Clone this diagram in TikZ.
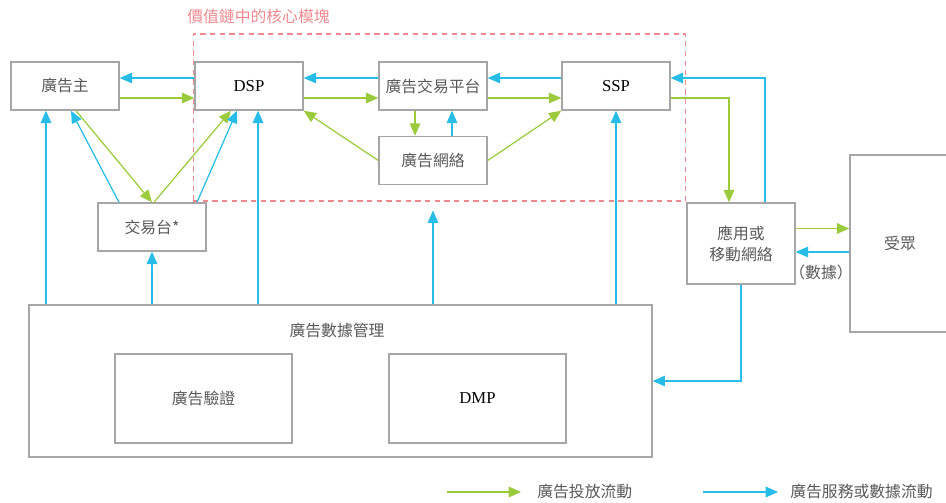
\documentclass[tikz,border=0pt]{standalone}
\usepackage{fontspec}
\setmainfont{Liberation Serif}
\newfontfamily\cjk{Noto Sans CJK TC}
\usetikzlibrary{arrows.meta}

\definecolor{flowgreen}{HTML}{9BCB3C}
\definecolor{flowblue}{HTML}{27BDE6}
\definecolor{boxgray}{HTML}{A6A6A6}
\definecolor{corered}{HTML}{EE8A8F}

\begin{document}
\begin{tikzpicture}[x=0.02cm, y=-0.02cm,
		box/.style={draw=boxgray, line width=0.85pt, minimum width=2.16cm, minimum height=0.96cm, inner sep=0pt, font=\cjk\fontsize{9}{12}\selectfont, text=black!65},
		latbox/.style={box, font=\fontsize{9.5}{12}\selectfont, text=black},
		plain/.style={inner sep=0pt, font=\cjk\fontsize{9}{12}\selectfont, text=black!65},
		gflow/.style={draw=flowgreen, line width=0.7pt, -{Triangle[length=7pt, width=6pt]}},
		bflow/.style={draw=flowblue, line width=0.7pt, -{Triangle[length=7pt, width=6pt]}}]
				\useasboundingbox (0,0) rectangle (946,503);
				
				% core modules
				\node[draw=corered, dashed, dash pattern=on 3pt off 2.5pt, line width=0.6pt, minimum width=9.86cm, minimum height=3.34cm] (core) at (439.5,117.5) {};
				\node[plain, anchor=west, text=corered] (coretitle) at (187,16) {價值鏈中的核心模塊};
				
				\node[box] (adv) at (65,86) {廣告主};
				\node[latbox] (dsp) at (249,86) {DSP};
				\node[box] (ex) at (433,86) {廣告交易平台};
				\node[latbox] (ssp) at (616,86) {SSP};
				\node[box] (net) at (433,160.5) {廣告網絡};
				\node[box] (desk) at (152,227) {交易台*};
				\node[box, minimum height=1.62cm, align=center] (app) at (741,243.5) {應用或\\移動網絡};
				\node[box, minimum width=2cm, minimum height=3.54cm] (aud) at (900,243.5) {受眾};
				\node[plain] (datalbl) at (821,272) {（數據）};
				
				% data management
				\node[box, minimum width=12.46cm, minimum height=3.04cm] (mgmt) at (340.5,381) {};
				\node[plain] (mgmtlbl) at (337,330) {廣告數據管理};
				\node[box, minimum width=3.54cm, minimum height=1.78cm] (verif) at (203.5,398.5) {廣告驗證};
				\node[latbox, minimum width=3.54cm, minimum height=1.78cm] (dmp) at (477.5,398.5) {DMP};
				
				% top row
				\draw[bflow] ([yshift=0.16cm]dsp.west) -- ([yshift=0.16cm]adv.east);
				\draw[gflow] ([yshift=-0.24cm]adv.east) -- ([yshift=-0.24cm]dsp.west);
				\draw[bflow] ([yshift=0.16cm]ex.west) -- ([yshift=0.16cm]dsp.east);
				\draw[gflow] ([yshift=-0.24cm]dsp.east) -- ([yshift=-0.24cm]ex.west);
				\draw[bflow] ([yshift=0.16cm]ssp.west) -- ([yshift=0.16cm]ex.east);
				\draw[gflow] ([yshift=-0.24cm]ex.east) -- ([yshift=-0.24cm]ssp.west);
				\draw[gflow] ([xshift=-0.36cm]ex.south) -- ([xshift=-0.36cm]net.north);
				\draw[bflow] ([xshift=0.38cm]net.north) -- ([xshift=0.38cm]ex.south);
				\draw[gflow] (net.west) -- (dsp.south east);
				\draw[gflow] (net.east) -- (ssp.south west);
				
				% trading desk
				\draw[gflow] ([xshift=0.22cm]adv.south) -- (desk.north);
				\draw[bflow] ([xshift=-0.66cm]desk.north) -- ([xshift=0.12cm]adv.south);
				\draw[gflow] ([xshift=0.04cm]desk.north) -- ([xshift=-0.36cm]dsp.south);
				\draw[bflow] ([xshift=0.9cm]desk.north) -- ([xshift=-0.24cm]dsp.south);
				
				% app and audience
				\draw[gflow] ([yshift=-0.24cm]ssp.east) -| ([xshift=-0.24cm]app.north);
				\draw[bflow] ([xshift=0.48cm]app.north) |- ([yshift=0.16cm]ssp.east);
				\draw[gflow] ([yshift=0.3cm]app.east) -- ([yshift=0.3cm]aud.west);
				\draw[bflow] ([yshift=-0.17cm]aud.west) -- ([yshift=-0.17cm]app.east);
				\draw[bflow] (app.south) |- (mgmt.east);
				
				% from data management
				\draw[bflow] ([xshift=-0.38cm]adv.south |- mgmt.north) -- ([xshift=-0.38cm]adv.south);
				\draw[bflow] (desk.south |- mgmt.north) -- (desk.south);
				\draw[bflow] ([xshift=0.18cm]dsp.south |- mgmt.north) -- ([xshift=0.18cm]dsp.south);
				\draw[bflow] (ex.south |- mgmt.north) -- ([yshift=-0.18cm]ex.south |- core.south);
				\draw[bflow] (ssp.south |- mgmt.north) -- (ssp.south);
				
				% legend
				\coordinate (g1) at (447,492);
				\coordinate (g2) at (521,492);
				\coordinate (b1) at (703,492);
				\coordinate (b2) at (778,492);
				\draw[gflow] (g1) -- (g2);
				\draw[bflow] (b1) -- (b2);
				\node[plain, anchor=west] (glbl) at (537,492) {廣告投放流動};
				\node[plain, anchor=west] (blbl) at (790,492) {廣告服務或數據流動};
				\end{tikzpicture}
\end{document}
